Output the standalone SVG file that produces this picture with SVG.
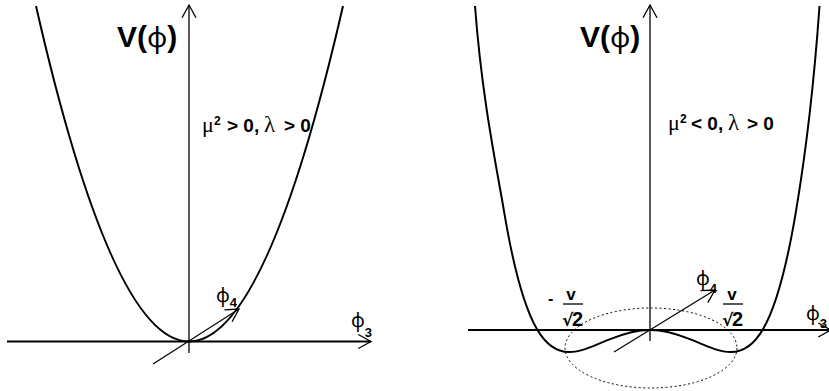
<svg xmlns="http://www.w3.org/2000/svg" width="829" height="391" viewBox="0 0 829 391">
<style>
.curve{fill:none;stroke:#000;stroke-width:2}
.axis{fill:none;stroke:#000;stroke-width:1.3}
.haxis{fill:none;stroke:#000;stroke-width:2}
.vec{fill:none;stroke:#000;stroke-width:1.2}
.ell{fill:none;stroke:#000;stroke-width:1;stroke-dasharray:2 2.5}
.b{font-family:"Liberation Sans",Arial,sans-serif;font-weight:bold;fill:#000}
.g{font-family:"Noto Sans","DejaVu Sans",sans-serif;font-weight:normal;fill:#000}
.s{font-family:"Liberation Serif","Times New Roman",serif;font-weight:normal;fill:#000}
.r{font-family:"DejaVu Sans",sans-serif;font-weight:bold;fill:#000}
.bar{stroke:#000;stroke-width:1.3}
</style>
<defs>
<marker id="ah" markerUnits="userSpaceOnUse" markerWidth="20" markerHeight="20" viewBox="-15 -10 20 20" refX="0" refY="0" orient="auto" overflow="visible">
<path d="M-12.7,-7 L0,0 L-12.7,7" fill="none" stroke="#000" stroke-width="1.3"/>
</marker>
</defs>

<g id="left-plot">
<path class="curve" d="M36,6 Q112.5,341.5 189,341.5 Q266,341.5 343,6"/>
<text class="b" x="117" y="47" font-size="30">V(<tspan class="g" font-size="28">φ</tspan>)</text>
<text x="202" y="132" font-size="19"><tspan class="s" font-size="22">μ</tspan><tspan class="b" x="214" y="125" font-size="12">2</tspan><tspan class="b" x="227" y="132">&gt; 0,</tspan><tspan class="s" x="264" font-size="23">λ</tspan><tspan class="b" x="284">&gt; 0</tspan></text>
<text x="216" y="302"><tspan class="g" font-size="19">φ</tspan><tspan class="b" font-size="13" dy="5">4</tspan></text>
<text x="351" y="327"><tspan class="g" font-size="19">φ</tspan><tspan class="b" font-size="13" dy="10">3</tspan></text>
</g>

<g id="right-plot">
<ellipse class="ell" cx="651" cy="348" rx="86" ry="40"/>
<path class="curve" d="M475,6 C482,98.55 496.1,164.2 504.2,212.3 C515,276.5 525.8,309.6 536.6,328.5 C547.4,347.4 558.2,352 569,352 C582.5,352 596,344.81 609.5,339.37 C623,333.93 636.5,330 650,330 C663.5,330 677,333.93 690.5,339.37 C704,344.81 717.5,352 731,352 C741.8,352 752.6,347.4 763.4,328.5 C774.2,309.6 785,276.5 795.8,212.3 C803.9,164.2 813,98.55 819.5,6"/>
<text class="b" x="580" y="47" font-size="30">V(<tspan class="g" font-size="28">φ</tspan>)</text>
<text x="668" y="130" font-size="19"><tspan class="s" font-size="22">μ</tspan><tspan class="b" x="680" y="123" font-size="12">2</tspan><tspan class="b" x="691" y="130">&lt; 0,</tspan><tspan class="s" x="728" font-size="23">λ</tspan><tspan class="b" x="747">&gt; 0</tspan></text>
<text x="696" y="285"><tspan class="g" font-size="19">φ</tspan><tspan class="b" font-size="13" dy="8">4</tspan></text>
<text x="806" y="320"><tspan class="g" font-size="19">φ</tspan><tspan class="b" font-size="13" dy="8">3</tspan></text>
<g id="label-neg">
<text class="b" x="548" y="304" font-size="16">-</text>
<text class="b" x="571" y="300" font-size="17" text-anchor="middle">v</text>
<line class="bar" x1="563" y1="304" x2="583" y2="304"/>
<text x="562" y="326"><tspan class="r" font-size="17">√</tspan><tspan class="b" x="572" font-size="20">2</tspan></text>
</g>
<g id="label-pos">
<text class="b" x="732" y="300" font-size="17" text-anchor="middle">v</text>
<line class="bar" x1="723" y1="304" x2="743" y2="304"/>
<text x="722" y="326"><tspan class="r" font-size="17">√</tspan><tspan class="b" x="732" font-size="20">2</tspan></text>
</g>
</g>

<g id="connectors">
<line class="axis" x1="189" y1="353" x2="189" y2="5" marker-end="url(#ah)"/>
<line class="haxis" x1="7" y1="341.5" x2="371" y2="341.5" marker-end="url(#ah)"/>
<line class="vec" x1="153" y1="364" x2="239" y2="309" marker-end="url(#ah)"/>
<line class="axis" x1="650" y1="341" x2="650" y2="5" marker-end="url(#ah)"/>
<line class="haxis" x1="468" y1="330" x2="831" y2="330" marker-end="url(#ah)"/>
<line class="vec" x1="614" y1="352" x2="715" y2="290" marker-end="url(#ah)"/>
</g>
</svg>
